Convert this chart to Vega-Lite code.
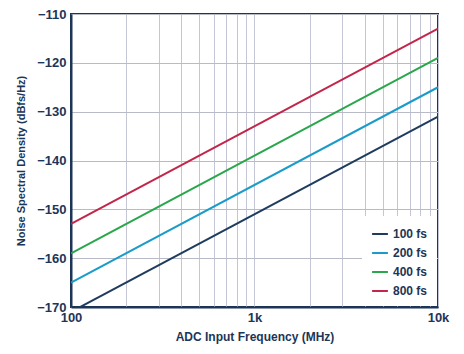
{
  "$schema": "https://vega.github.io/schema/vega-lite/v6.json",
  "width": 367,
  "height": 293,
  "autosize": "none",
  "padding": {"left": 71, "top": 14, "right": 26, "bottom": 47},
  "background": "white",
  "config": {
    "view": {"stroke": "#1d3557", "strokeWidth": 2},
    "font": "Liberation Sans"
  },
  "data": {
    "values": [
      {"f": 100, "nsd": -171, "jitter": "100 fs"},
      {"f": 10000, "nsd": -131, "jitter": "100 fs"},
      {"f": 100, "nsd": -165, "jitter": "200 fs"},
      {"f": 10000, "nsd": -125, "jitter": "200 fs"},
      {"f": 100, "nsd": -159, "jitter": "400 fs"},
      {"f": 10000, "nsd": -119, "jitter": "400 fs"},
      {"f": 100, "nsd": -153, "jitter": "800 fs"},
      {"f": 10000, "nsd": -113, "jitter": "800 fs"}
    ]
  },
  "mark": {"type": "line", "strokeWidth": 2, "clip": true},
  "encoding": {
    "x": {
      "field": "f",
      "type": "quantitative",
      "scale": {"type": "log", "domain": [100, 10000], "nice": false},
      "axis": {
        "title": "ADC Input Frequency (MHz)",
        "values": [100, 200, 300, 400, 500, 600, 700, 800, 900, 1000, 2000, 3000, 4000, 5000, 6000, 7000, 8000, 9000, 10000],
        "labelExpr": "datum.value == 100 ? '100' : datum.value == 1000 ? '1k' : datum.value == 10000 ? '10k' : ''",
        "grid": true,
        "gridColor": "#c4c6d6",
        "gridWidth": 1,
        "gridOpacity": 1,
        "ticks": false,
        "domainColor": "#1d3557",
        "domainWidth": 2,
        "labelFont": "Liberation Sans",
        "labelFontWeight": "bold",
        "labelFontSize": 13,
        "labelColor": "#1d3557",
        "labelPadding": 4,
        "labelFlush": false,
        "titleFont": "Liberation Sans",
        "titleFontWeight": "bold",
        "titleFontSize": 12,
        "titleColor": "#1d3557",
        "titlePadding": 7
      }
    },
    "y": {
      "field": "nsd",
      "type": "quantitative",
      "scale": {"domain": [-170, -110], "nice": false},
      "axis": {
        "title": "Noise Spectral Density (dBfs/Hz)",
        "values": [-170, -160, -150, -140, -130, -120, -110],
        "grid": true,
        "gridColor": "#b8bac8",
        "gridOpacity": 1,
        "ticks": false,
        "domainColor": "#1d3557",
        "domainWidth": 2,
        "labelFont": "Liberation Sans",
        "labelFontWeight": "bold",
        "labelFontSize": 13,
        "labelColor": "#1d3557",
        "labelPadding": 5,
        "labelFlush": false,
        "titleFont": "Liberation Sans",
        "titleFontWeight": "bold",
        "titleFontSize": 11,
        "titleColor": "#1d3557",
        "titlePadding": 10
      }
    },
    "color": {
      "field": "jitter",
      "type": "nominal",
      "scale": {
        "domain": ["100 fs", "200 fs", "400 fs", "800 fs"],
        "range": ["#1f3b5e", "#1a9bc8", "#2aa64c", "#c2264a"]
      },
      "legend": {
        "title": null,
        "orient": "bottom-right",
        "offset": 1,
        "fillColor": "white",
        "padding": 9,
        "symbolType": "stroke",
        "symbolStrokeWidth": 2,
        "symbolSize": 250,
        "labelFont": "Liberation Sans",
        "labelFontWeight": "bold",
        "labelFontSize": 12,
        "labelColor": "#1d3557",
        "rowPadding": 4
      }
    }
  }
}
